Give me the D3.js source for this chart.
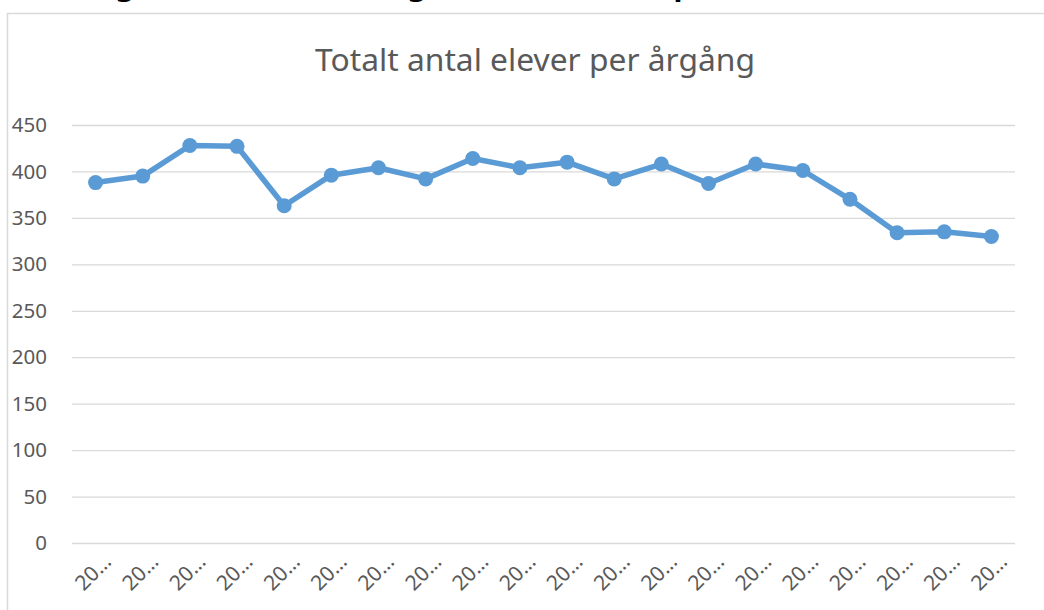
<!DOCTYPE html>
<html>
<head>
<meta charset="utf-8">
<script src="https://cdn.jsdelivr.net/npm/d3@7"></script>
<style>
  html, body { margin: 0; padding: 0; background: #fff; overflow: hidden; }
  svg { display: block; font-family: "Noto Sans", "Open Sans", sans-serif; }
</style>
</head>
<body>
<div class="svg-container"></div>
<script>
// data
var title = "Totalt antal elever per årgång";
var tickLabels = ["20…","20…","20…","20…","20…","20…","20…","20…","20…","20…",
                  "20…","20…","20…","20…","20…","20…","20…","20…","20…","20…"];
var values = [388, 395, 428, 427, 363, 396, 404, 392, 414, 404,
              410, 392, 408, 387, 408, 401, 370, 334, 335, 330];
var yTicks = [0, 50, 100, 150, 200, 250, 300, 350, 400, 450];
// bottom of a bold heading above the chart, clipped by the page edge
var headingBits = [{t: "g", x: 125}, {t: "g", x: 417}, {t: "p", x: 683}];

var width = 1044, height = 610;

var svg = d3.select(".svg-container")
    .append("svg")
    .attr("width", width)
    .attr("height", height)
    .attr("viewBox", `0 0 ${width} ${height}`);

var margin = {top: 125, right: 29, bottom: 67, left: 72};
var chartWidth = width - margin.left - margin.right;
var chartHeight = height - margin.top - margin.bottom;

// clipped heading
svg.selectAll(".heading").data(headingBits).enter().append("text")
    .attr("class", "heading")
    .attr("x", d => d.x)
    .attr("y", -5)
    .attr("text-anchor", "middle")
    .attr("font-weight", "bold")
    .attr("font-size", 30)
    .attr("fill", "#000")
    .text(d => d.t);

// chart area border
svg.append("rect")
    .attr("x", 7.5)
    .attr("y", 13.5)
    .attr("width", width + 20)
    .attr("height", height + 20)
    .attr("fill", "#fff")
    .attr("stroke", "#d9d9d9")
    .attr("stroke-width", 1.5);

var titleText = svg.append("text")
    .attr("x", 535)
    .attr("y", 71)
    .attr("text-anchor", "middle")
    .attr("fill", "#595959")
    .attr("font-size", 32)
    .text(title);
// fit the title to the width it takes in the picture
var tw = titleText.node().getComputedTextLength();
titleText.attr("font-size", 32 * 440 / tw);

var g = svg.append("g")
    .attr("transform", `translate(${margin.left}, ${margin.top})`);

var xScale = d3.scaleBand()
    .domain(d3.range(values.length))
    .range([0, chartWidth]);

var yScale = d3.scaleLinear()
    .domain([0, 450])
    .range([chartHeight, 0]);

var yGridlines = d3.axisLeft(yScale).tickValues(yTicks).tickSize(-chartWidth).tickFormat("");
g.append("g")
    .attr("class", "grid")
    .call(yGridlines)
    .call(s => s.select(".domain").remove())
    .call(s => s.selectAll("line").attr("stroke", "#d9d9d9").attr("stroke-width", 1.3));

var yAxis = d3.axisLeft(yScale).tickValues(yTicks).tickSize(0).tickPadding(25);
g.append("g")
    .attr("class", "axis-y")
    .call(yAxis)
    .call(s => s.select(".domain").remove())
    .call(s => s.selectAll("text")
        .attr("fill", "#595959")
        .attr("font-size", 20.5)
        .attr("font-family", "'Noto Sans', sans-serif"));

var xAxis = d3.axisBottom(xScale).tickSize(0).tickFormat(i => tickLabels[i]);
g.append("g")
    .attr("class", "axis-x")
    .attr("transform", `translate(0, ${chartHeight})`)
    .call(xAxis)
    .call(s => s.select(".domain").remove())
    .call(s => s.selectAll("text")
        .attr("fill", "#595959")
        .attr("font-size", 21)
        .attr("font-family", "'Noto Sans', sans-serif")
        .attr("text-anchor", "end")
        .attr("dy", 0)
        .attr("y", 0)
        .attr("transform", "translate(17, 20) rotate(-45)"));

var line = d3.line()
    .x((d, i) => xScale(i) + xScale.bandwidth() / 2)
    .y(d => yScale(d));

g.append("path")
    .datum(values)
    .attr("fill", "none")
    .attr("stroke", "#5b9bd5")
    .attr("stroke-width", 5.5)
    .attr("stroke-linejoin", "round")
    .attr("d", line);

g.selectAll(".dot").data(values).enter().append("circle")
    .attr("class", "dot")
    .attr("cx", (d, i) => xScale(i) + xScale.bandwidth() / 2)
    .attr("cy", d => yScale(d))
    .attr("r", 7.5)
    .attr("fill", "#5b9bd5");
</script>
</body>
</html>
